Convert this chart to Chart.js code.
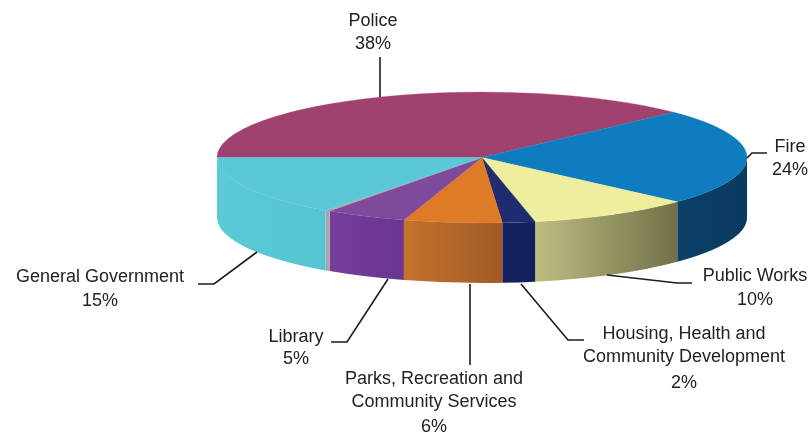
<!DOCTYPE html>
<html>
<head>
<meta charset="utf-8">
<title>Budget by department</title>
<script src="https://cdn.jsdelivr.net/npm/chart.js@4"></script>
<style>
  html, body { margin: 0; padding: 0; background: #fff; }
  #wrap { position: relative; width: 812px; height: 435px; }
</style>
</head>
<body>
<div id="wrap"><canvas id="budgetChart"></canvas></div>
<script>
// budget share per department, clockwise from the left edge of the pie
const categories = ["Police", "Fire", "Public Works", "Housing, Health and Community Development",
  "Parks, Recreation and Community Services", "Library", "Other", "General Government"];
const shares = [38, 24, 10, 2, 6, 5, 0.3, 15];
const topColors = ["#A04270", "#0F7CC0", "#EFEE9E", "#1F2D70", "#DF7A26", "#7E4A9B", "#A9A5AD", "#5AC8D6"];
// rim colours, left to right
const sideColors = [
  ["#A04270", "#A04270"], ["#0B4068", "#0A3A60"], ["#BDBD80", "#71704A"], ["#16225E", "#14205A"],
  ["#C5722C", "#A05A26"], ["#773C9A", "#6A3590"], ["#A9A5AD", "#A9A5AD"], ["#5ACAD7", "#55C5D2"]
];

// wrapped label text, the percentage line is added from shares
const labelLines = [["Police"], ["Fire"], ["Public Works"], ["Housing, Health and", "Community Development"],
  ["Parks, Recreation and", "Community Services"], ["Library"], [], ["General Government"]];
const labelSpots = [
  { x: 373, y: [21, 44] },
  { x: 790, y: [147, 170] },
  { x: 755, y: [276, 300] },
  { x: 684, y: [334, 357, 383] },
  { x: 434, y: [379, 402, 427] },
  { x: 296, y: [337, 359] },
  null,
  { x: 100, y: [277, 301] }
];
const leaders = [
  [[380, 57], [380, 97]],
  [[747, 158], [752, 153], [767, 153]],
  [[607, 275], [677, 283], [692, 283]],
  [[521, 284], [568, 340], [584, 340]],
  [[470, 284], [470, 365]],
  [[388, 279], [347, 342], [331, 342]],
  null,
  [[257, 252], [214, 284], [198, 284]]
];

const radius = 265;
const squash = 65.5 / 265;
const centerY = 157.5;
const depth = 60;

// flatten the disc into an ellipse around the arcs' own centre
function tilt(ctx, arc) {
  ctx.translate(arc.x, centerY);
  ctx.scale(1, squash);
  ctx.translate(-arc.x, -arc.y);
}

const pie3d = {
  id: "pie3d",
  beforeDatasetsDraw(chart) {
    const ctx = chart.ctx;
    const arcs = chart.getDatasetMeta(0).data;
    // front wall of the cylinder, only the part between 0 and 180 degrees shows
    arcs.forEach((arc, i) => {
      const from = Math.max(arc.startAngle, 2 * Math.PI);
      const to = Math.min(arc.endAngle, 3 * Math.PI);
      if (to <= from) return;
      const ry = arc.outerRadius * squash;
      const x1 = arc.x + arc.outerRadius * Math.cos(to);
      const x2 = arc.x + arc.outerRadius * Math.cos(from);
      const grad = ctx.createLinearGradient(x1, 0, x2, 0);
      grad.addColorStop(0, sideColors[i][0]);
      grad.addColorStop(1, sideColors[i][1]);
      ctx.beginPath();
      ctx.ellipse(arc.x, centerY, arc.outerRadius, ry, 0, from, to);
      ctx.ellipse(arc.x, centerY + depth, arc.outerRadius, ry, 0, to, from, true);
      ctx.closePath();
      ctx.fillStyle = grad;
      ctx.fill();
    });
    ctx.save();
    tilt(ctx, arcs[0]);
  },
  afterDatasetsDraw(chart) {
    chart.ctx.restore();
  },
  afterDraw(chart) {
    const ctx = chart.ctx;
    ctx.save();
    ctx.strokeStyle = "#1c1c1c";
    ctx.lineWidth = 1.6;
    leaders.forEach((pts) => {
      if (!pts) return;
      ctx.beginPath();
      pts.forEach((p, i) => (i ? ctx.lineTo(p[0], p[1]) : ctx.moveTo(p[0], p[1])));
      ctx.stroke();
    });
    ctx.fillStyle = "#222";
    ctx.font = '18px "Liberation Sans"';
    ctx.textAlign = "center";
    ctx.textBaseline = "middle";
    labelLines.forEach((lines, i) => {
      const spot = labelSpots[i];
      if (!spot) return;
      lines.concat(shares[i] + "%").forEach((text, k) => ctx.fillText(text, spot.x, spot.y[k]));
    });
    ctx.restore();
  }
};

new Chart(document.getElementById("budgetChart"), {
  type: "pie",
  plugins: [pie3d],
  data: {
    labels: categories,
    datasets: [{
      data: shares,
      backgroundColor: topColors,
      borderColor: topColors,
      borderWidth: 0.5,
      clip: false
    }]
  },
  options: {
    responsive: true,
    maintainAspectRatio: false,
    animation: false,
    rotation: 270,
    radius: radius,
    layout: { padding: { left: 152 } },
    plugins: { legend: { display: false }, tooltip: { enabled: false } }
  }
});
</script>
</body>
</html>
